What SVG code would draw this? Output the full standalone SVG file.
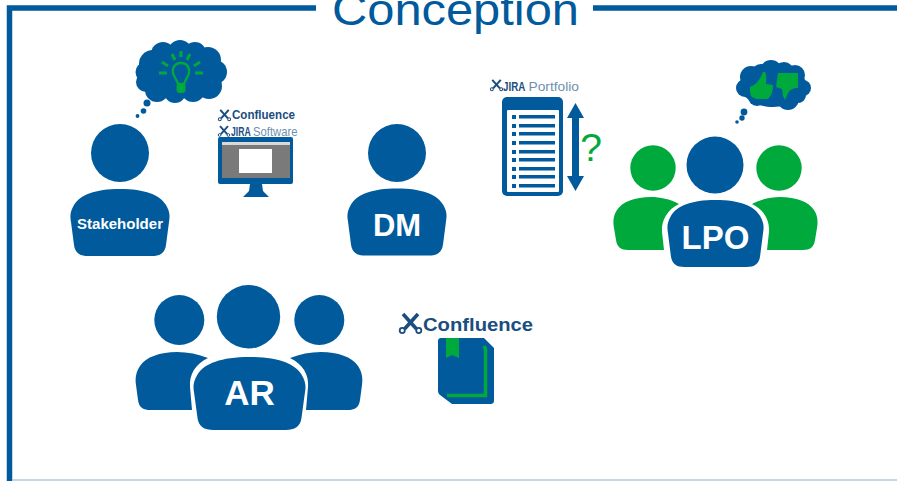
<svg xmlns="http://www.w3.org/2000/svg" width="897" height="481" viewBox="0 0 897 481">
<style>
.b{fill:#005a9c}.g{fill:#00a93c}.w{fill:#fff}
.lab{font-family:"Liberation Sans",Arial,sans-serif;font-weight:700;fill:#fff;text-anchor:middle}
.lg{font-family:"Liberation Sans",Arial,sans-serif;fill:#1a4d80;font-weight:700}
.lt{font-family:"Liberation Sans",Arial,sans-serif;fill:#6f8fb0}
.ray{stroke:#00a93c;stroke-width:3;fill:none}
</style>
<defs>
<path id="body" d="M0 0C-25 0-40 6-46 16C-50 23-50 27-49 33L-46 56C-45 64-40 67-32 67H32C40 67 45 64 46 56L49 33C50 27 50 23 46 16C40 6 25 0 0 0Z"/>
<g id="sci" fill="none" stroke="#1a4d80"><path d="M-5 -6L4 4M5 -6L-4 4" stroke-width="2.400"/><circle cx="-5.500" cy="5" r="1.700" stroke-width="1.200"/><circle cx="5.500" cy="5" r="1.700" stroke-width="1.200"/></g>
</defs>
<rect width="897" height="481" fill="#fff"/>
<g id="frame">
<path d="M316 8H9.500V481" fill="none" stroke="#005a9c" stroke-width="5.500"/>
<path d="M593 8H897" fill="none" stroke="#005a9c" stroke-width="5.500"/>
<path d="M12 480H897" stroke="#a9cde6" stroke-width="1.500"/>
<text x="332" y="25" font-family="Liberation Sans,Arial,sans-serif" font-size="45" fill="#005a9c" textLength="247" lengthAdjust="spacingAndGlyphs">Conception</text>
</g>
<g id="connectors"></g>
<g id="stakeholder">
<circle class="b" cx="120" cy="153" r="29"/>
<use href="#body" class="b" transform="translate(120 189)"/>
<text class="lab" x="120" y="229" font-size="14.500" textLength="86" lengthAdjust="spacingAndGlyphs">Stakeholder</text>
<g class="b"><ellipse cx="181" cy="72" rx="40" ry="26"/><circle cx="153" cy="64" r="14"/><circle cx="145" cy="72" r="9.500"/><circle cx="146" cy="82" r="10"/><circle cx="157" cy="90" r="12"/><circle cx="175" cy="92" r="11"/><circle cx="193" cy="90" r="12"/><circle cx="209" cy="86" r="13"/><circle cx="215" cy="72" r="12"/><circle cx="208" cy="60" r="13"/><circle cx="195" cy="53" r="11"/><circle cx="180" cy="52" r="12"/><circle cx="163" cy="54" r="12"/><circle cx="147" cy="103" r="3.500"/><circle cx="143.500" cy="111" r="2.800"/><circle cx="137.500" cy="116" r="1.900"/></g>
<path class="ray" d="M181 51V57M172 54L175 60M190 54L187 60M162 62L168 66M200 62L194 66M159 73H167M195 73H203"/>
<path d="M181 63C174 63 172 69 173 73C174 77 177 80 178 84H184C185 80 188 77 189 73C190 69 188 63 181 63Z" fill="none" stroke="#00a93c" stroke-width="2.400"/>
<rect class="g" x="176.500" y="83" width="9" height="10" rx="3.500"/>
</g>
<g id="jira-software">
<use href="#sci" transform="translate(224.500 115) scale(.85)"/>
<text class="lg" transform="translate(232 119) scale(.965 1)" font-size="12">Confluence</text>
<use href="#sci" transform="translate(224 131) scale(.8)"/>
<text class="lg" transform="translate(231 136) scale(.72 1)" font-size="12">JIRA</text>
<text class="lt" transform="translate(253 136) scale(.94 1)" font-size="12">Software</text>
<rect class="b" x="218" y="137" width="75" height="47" rx="2"/>
<rect x="222" y="142" width="68" height="36" fill="#7a7a7a"/>
<rect x="222" y="142" width="68" height="3" fill="#d9d9d9"/>
<rect class="w" x="239" y="149" width="33" height="24"/>
<path class="b" d="M250 184H262L263 191L269 197H243L249 191Z"/>
</g>
<g id="dm">
<circle class="b" cx="397" cy="153" r="29"/>
<use href="#body" class="b" transform="translate(397 188.500)"/>
<text class="lab" x="397" y="236" font-size="31">DM</text>
</g>
<g id="jira-portfolio">
<use href="#sci" transform="translate(496.500 85) scale(.85)"/>
<text class="lg" transform="translate(503 90.500) scale(.75 1)" font-size="13">JIRA</text>
<text class="lt" transform="translate(528.500 90.500) scale(1.02 1)" font-size="13.500">Portfolio</text>
<rect class="b" x="502" y="97" width="61" height="99" rx="5"/>
<rect class="w" x="507" y="110" width="52" height="82" rx="1"/>
<g class="b">
<rect x="512" y="115" width="4" height="4"/><rect x="519" y="115" width="36" height="3.500"/>
<rect x="512" y="124" width="4" height="4"/><rect x="519" y="124" width="36" height="3.500"/>
<rect x="512" y="132" width="4" height="4"/><rect x="519" y="132" width="36" height="3.500"/>
<rect x="512" y="141" width="4" height="4"/><rect x="519" y="141" width="36" height="3.500"/>
<rect x="512" y="150" width="4" height="4"/><rect x="519" y="150" width="36" height="3.500"/>
<rect x="512" y="158" width="4" height="4"/><rect x="519" y="158" width="36" height="3.500"/>
<rect x="512" y="167" width="4" height="4"/><rect x="519" y="167" width="36" height="3.500"/>
<rect x="512" y="175" width="4" height="4"/><rect x="519" y="175" width="36" height="3.500"/>
<rect x="512" y="184" width="4" height="4"/><rect x="519" y="184" width="36" height="3.500"/>
<path d="M575.500 103L584 118H579V176H584L575.500 191L567 176H572V118H567Z"/>
</g>
<text x="591" y="161" font-family="Liberation Sans,Arial,sans-serif" font-size="39" fill="#00a93c" text-anchor="middle">?</text>
</g>
<g id="lpo">
<circle class="g" cx="653" cy="168" r="22.700"/><circle class="g" cx="779" cy="168" r="22.700"/>
<path class="g" d="M651 197C635 197 622 202 617 210C613 216 613 222 614 228L616 240C617 247 621 250 628 250H664L662 232C661 220 668 209 679 204C670 199 660 197 651 197Z"/>
<path class="g" d="M780 197C796 197 809 202 814 210C818 216 818 222 817 228L815 240C814 247 810 250 803 250H767L769 232C770 220 763 209 752 204C761 199 771 197 780 197Z"/>
<circle class="b" cx="715" cy="165" r="28.500"/>
<use href="#body" class="b" transform="translate(715.500 200) scale(.97 1)"/>
<text class="lab" x="715.500" y="249" font-size="33">LPO</text>
<g class="b"><ellipse cx="773" cy="85" rx="33" ry="22"/><circle cx="745" cy="88" r="9"/><circle cx="751" cy="77" r="11"/><circle cx="761" cy="74" r="10"/><circle cx="771" cy="71" r="11"/><circle cx="784" cy="72" r="10"/><circle cx="795" cy="75" r="10"/><circle cx="803" cy="88" r="8"/><circle cx="798" cy="95" r="8"/><circle cx="788" cy="99" r="11"/><circle cx="757" cy="97" r="9"/><circle cx="771" cy="97" r="10"/><circle cx="744" cy="112" r="3.400"/><circle cx="742" cy="118" r="2.700"/><circle cx="737" cy="122" r="1.800"/></g>
<path class="g" d="M763 72L765 72C767 76 766 80 766 84L773 85C773 92 771 96 768 99L757 99C752 98 750 96 750 91V87C756 85 760 80 763 72Z"/>
<path class="g" d="M778 73H798L798 88C793 88 790 90 788 93L785 100L783 96L782 89L776 87Z"/>
</g>
<g id="ar">
<circle class="b" cx="179.300" cy="320" r="25"/><circle class="b" cx="319.300" cy="320" r="25"/>
<path class="b" d="M177 352C160 352 146 357 140 366C136 372 135 378 136 385L138 400C139 408 144 410 150 410H192L190 387C189 375 195 364 208 358C198 354 188 352 177 352Z"/>
<path class="b" d="M321 352C338 352 352 357 358 366C362 372 363 378 362 385L360 400C359 408 354 410 348 410H306L308 387C309 375 303 364 290 358C300 354 310 352 321 352Z"/>
<circle class="b" cx="248.500" cy="316.700" r="31.700"/>
<use href="#body" class="b" transform="translate(249.500 357) scale(1.130 1.090)"/>
<text class="lab" x="249.500" y="405" font-size="35">AR</text>
</g>
<g id="confluence-doc">
<use href="#sci" transform="translate(410.500 323) scale(1.500)"/>
<text class="lg" transform="translate(423 331) scale(1.065 1)" font-size="19">Confluence</text>
<path class="b" d="M441 338H484L494 348V400C494 403 493 404 490 404H452L440 395C438 393 438 392 438 390V341C438 339 439 338 441 338Z"/>
<path class="g" d="M446 338H459V358L452 355L446 358Z"/>
<path d="M484 346L485.500 349V395.500H447" fill="none" stroke="#00a93c" stroke-width="3.500"/>
</g>
</svg>
